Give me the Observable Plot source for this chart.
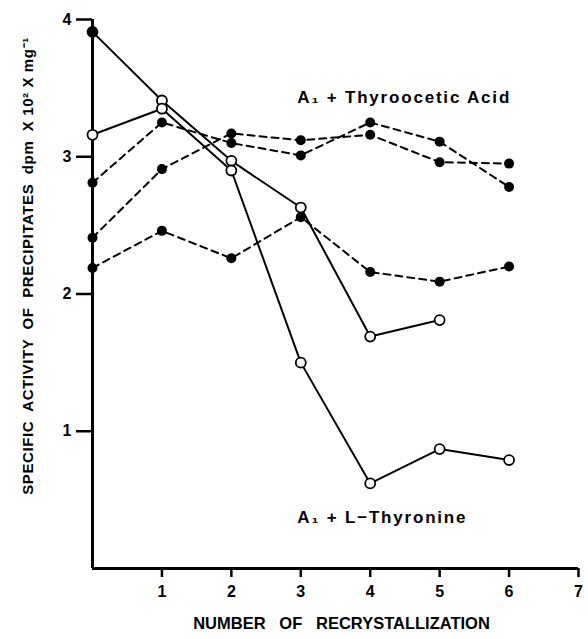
<!DOCTYPE html>
<html>
<head>
<meta charset="utf-8">
<script src="https://cdn.jsdelivr.net/npm/d3@7"></script>
<script src="https://cdn.jsdelivr.net/npm/@observablehq/plot@0.6"></script>
<style>
  html, body { margin: 0; padding: 0; background: white; }
</style>
</head>
<body>
<div id="chart"></div>
<script>
// Number of recrystallizations
const steps = [0, 1, 2, 3, 4, 5, 6];
// A1 + Thyroacetic acid (filled dots, dashed lines)
const thyroA = [2.81, 3.25, 3.10, 3.01, 3.25, 3.11, 2.78];
const thyroB = [2.41, 2.91, 3.17, 3.12, 3.16, 2.96, 2.95];
const thyroC = [2.19, 2.46, 2.26, 2.56, 2.16, 2.09, 2.20];
// A1 + L-Thyronine (open circles, solid lines)
const thyronineA = [3.91, 3.41, 2.97, 2.63, 1.69, 1.81];
const thyronineB = [3.16, 3.35, 2.90, 1.50, 0.62, 0.87, 0.79];
// Tick labels
const xTicks = [1, 2, 3, 4, 5, 6, 7];
const yTicks = [1, 2, 3, 4];
// Annotations
const labels = [
  {text: "A\u2081 + Thyroocetic Acid", x: 2.95, y: 3.43},
  {text: "A\u2081 + L\u2212Thyronine", x: 2.95, y: 0.37}
];

const toRows = (name, vals) => vals.map((v, i) => ({series: name, x: steps[i], y: v}));
const dashed = [...toRows("TA-a", thyroA), ...toRows("TA-b", thyroB), ...toRows("TA-c", thyroC)];
const solid = [...toRows("LT-a", thyronineA), ...toRows("LT-b", thyronineB)];

const font = "'Liberation Sans', Arial, sans-serif";
const yTitle = "SPECIFIC  ACTIVITY  OF  PRECIPITATES  dpm  X 10\u00B2 X mg\u207B\u00B9";

const chart = Plot.plot({
  width: 588,
  height: 639,
  marginLeft: 92,
  marginRight: 10,
  marginTop: 19,
  marginBottom: 71,
  style: {fontFamily: font, background: "white", color: "black"},
  x: {domain: [0, 7]},
  y: {domain: [0, 4]},
  marks: [
    Plot.axisX({ticks: xTicks, tickFormat: d => String(d), tickSize: 9, tickPadding: 8, fontSize: 16, fontWeight: "bold", strokeWidth: 2.5, label: null}),
    Plot.axisY({ticks: yTicks, tickFormat: d => String(d), tickSize: 16, tickPadding: 5, fontSize: 16, fontWeight: "bold", strokeWidth: 2.5, label: null}),
    Plot.ruleY([0], {strokeWidth: 3}),
    Plot.ruleX([0], {strokeWidth: 3}),
    Plot.line(dashed, {x: "x", y: "y", z: "series", stroke: "black", strokeWidth: 2, strokeDasharray: "7,5"}),
    Plot.line(solid, {x: "x", y: "y", z: "series", stroke: "black", strokeWidth: 2}),
    Plot.dot(dashed, {x: "x", y: "y", r: 5, fill: "black", stroke: "none"}),
    Plot.dot(solid, {x: "x", y: "y", r: 5, fill: d => (d.series === "LT-a" && d.x === 0) ? "black" : "white", stroke: "black", strokeWidth: 1.8}),
    Plot.text(labels, {x: "x", y: "y", text: "text", textAnchor: "start", fontSize: 17, fontWeight: "bold", fill: "black"}),
    Plot.text(["NUMBER   OF   RECRYSTALLIZATION"], {frameAnchor: "bottom", dx: 6, dy: 60, fontSize: 16.5, fontWeight: "bold", fill: "black"}),
    Plot.text([yTitle], {frameAnchor: "left", textAnchor: "middle", rotate: -90, dx: -64, dy: -28, fontSize: 15, fontWeight: "bold", fill: "black"})
  ]
});
const labelTexts = new Set(labels.map(d => d.text));
chart.querySelectorAll("text").forEach(t => {
  t.style.whiteSpace = "pre";
  if (labelTexts.has(t.textContent)) t.style.letterSpacing = "1.8px";
  if (t.textContent === yTitle) t.style.letterSpacing = "0.6px";
});
document.getElementById("chart").appendChild(chart);
</script>
</body>
</html>
